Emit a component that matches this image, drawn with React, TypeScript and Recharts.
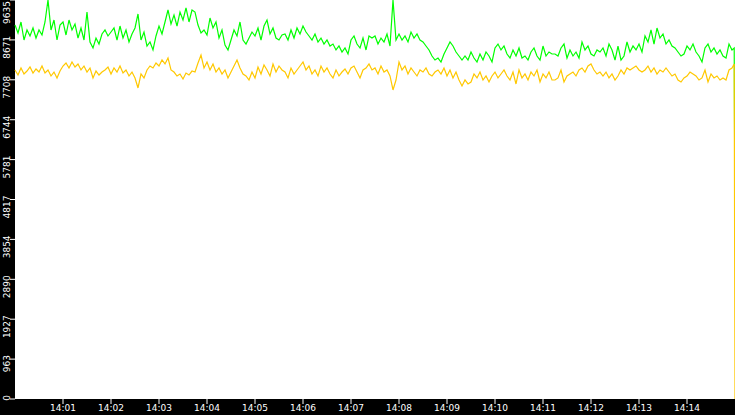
import { LineChart, Line, XAxis, YAxis, CartesianGrid } from 'recharts';

// one sample every 3.75 s from 14:00:00, last sample at 14:15:00
const greenValues = [
  9031, 8838, 9104, 8669, 8911, 8766, 8959, 8717, 8911, 8790, 9104, 9635, 8911, 9152, 8669,
  9031, 9104, 8790, 9152, 8911, 9055, 8717, 8959, 8669, 9345, 8621, 8476, 8717, 8572, 8814,
  8911, 8766, 8862, 8959, 8669, 9007, 8717, 8911, 8621, 8814, 8959, 9297, 8669, 8862, 8524,
  8621, 8428, 8766, 9007, 8814, 9104, 9394, 9055, 9273, 9007, 9345, 9152, 9442, 9104, 9394,
  9345, 9031, 8838, 8911, 8790, 9200, 8959, 9104, 8717, 8911, 8548, 8428, 8669, 8911, 8766,
  9104, 8669, 8572, 8717, 8862, 8766, 8959, 8669, 9007, 9152, 8814, 8959, 8717, 8669, 8790,
  8814, 8669, 8911, 8717, 8959, 8814, 9007, 8862, 8766, 8669, 8814, 8621, 8717, 8572, 8669,
  8524, 8572, 8428, 8524, 8379, 8476, 8331, 8669, 8766, 8572, 8476, 8717, 8428, 8766, 8717,
  8766, 8572, 8717, 8621, 8814, 8524, 9635, 8669, 8814, 8669, 8766, 8621, 8862, 8717, 8814,
  8669, 8621, 8524, 8428, 8283, 8186, 8234, 8138, 8331, 8476, 8621, 8524, 8379, 8283, 8186,
  8283, 8186, 8379, 8234, 8138, 8331, 8186, 8379, 8283, 8138, 8476, 8572, 8428, 8524, 8331,
  8234, 8428, 8283, 8476, 8234, 8283, 8186, 8379, 8476, 8283, 8186, 8524, 8283, 8379, 8331,
  8331, 8283, 8476, 8572, 8234, 8428, 8283, 8379, 8234, 8621, 8428, 8524, 8331, 8283, 8428,
  8379, 8476, 8283, 8572, 8428, 8186, 8524, 8186, 8283, 8621, 8379, 8524, 8428, 8572, 8379,
  8766, 8621, 8911, 8572, 8959, 8717, 8814, 8572, 8669, 8524, 8476, 8379, 8283, 8331, 8524,
  8428, 8572, 8379, 8283, 8138, 8476, 8572, 8379, 8476, 8331, 8428, 8283, 8234, 8572, 8428,
  8476, 4100,
];

const yellowValues = [
  7945, 7824, 7993, 7848, 7920, 8017, 7872, 7969, 7896, 8041, 7872, 7945, 7800, 7896, 7752,
  7920, 8041, 8114, 7993, 8138, 8017, 8090, 7945, 8041, 7896, 7993, 7752, 7920, 7824, 7896,
  7945, 8017, 7848, 7993, 7896, 8041, 7872, 7945, 7800, 7896, 7752, 7510, 7848, 7752, 7945,
  8041, 7993, 8114, 8041, 8186, 8090, 8235, 7945, 7896, 7800, 7848, 7727, 7872, 7824, 7920,
  7896, 8114, 8307, 7993, 8138, 7945, 8090, 7896, 7993, 7848, 7945, 7752, 7896, 8041, 8186,
  7993, 7848, 7800, 7703, 7896, 7752, 8017, 7848, 8065, 7945, 7800, 8090, 7896, 8041, 7945,
  7896, 7752, 7993, 7848, 7945, 8041, 8138, 7945, 8041, 7848, 7945, 7800, 8041, 7896, 7993,
  7848, 7752, 7945, 7800, 7896, 7969, 7848, 7993, 8041, 7896, 7752, 7945, 7993, 8090, 7945,
  7993, 7848, 8041, 7896, 7945, 7800, 7462, 7703, 8138, 7945, 8041, 7848, 7993, 7896, 7800,
  7945, 7896, 7993, 7848, 7800, 7896, 7945, 7848, 7993, 7800, 7945, 7752, 7896, 7703, 7558,
  7703, 7607, 7655, 7848, 7752, 7896, 7703, 7800, 7655, 7800, 7896, 7752, 7848, 7945, 7800,
  7703, 7896, 7607, 7945, 7752, 7848, 7703, 7896, 7800, 7945, 7655, 7848, 7752, 7896, 7703,
  7703, 7752, 7945, 7655, 7800, 7848, 7896, 7800, 7945, 7993, 7896, 8041, 8090, 7945, 7848,
  7896, 7800, 7896, 7752, 7848, 7703, 7800, 7945, 7848, 7993, 7945, 7993, 8041, 7945, 7896,
  7945, 8041, 7896, 7993, 7848, 7945, 7896, 7993, 7896, 7800, 7848, 7703, 7655, 7752, 7800,
  7896, 7848, 7800, 7703, 7752, 7945, 7655, 7848, 7752, 7800, 7703, 7752, 7703, 7945, 7993,
  8090, 0,
];

// sample times in seconds after 14:00:00
const times = greenValues.map((_, i) => (i < 240 ? i * 3.75 : i === 240 ? 899 : 900));

const yTicks = [0, 963, 1927, 2890, 3854, 4817, 5781, 6744, 7708, 8671, 9635];
const xTicks = [60, 120, 180, 240, 300, 360, 420, 480, 540, 600, 660, 720, 780, 840];

const data = greenValues.map((g, i) => ({
  t: times[i],
  green: g,
  yellow: yellowValues[i],
}));

const fontFamily = '"DejaVu Sans", sans-serif';

function YTick(props: any) {
  const { y, payload } = props;
  const ty = Math.max(y - 4, 1);
  return (
    <g>
      <line x1={10} x2={15} y1={y} y2={y} stroke="#fff" />
      <text
        x={10}
        y={ty}
        transform={`rotate(-90, 10, ${ty})`}
        textAnchor="end"
        fill="#fff"
        fontSize={9}
        fontFamily={fontFamily}
      >
        {payload.value}
      </text>
    </g>
  );
}

function fmtTime(t: number) {
  return '14:' + String(Math.floor(t / 60)).padStart(2, '0');
}

export default function App() {
  return (
    <div style={{ position: 'fixed', top: 0, left: 0, background: '#000', width: 735, height: 415 }}>
      <LineChart width={735} height={415} data={data} margin={{ top: 0, right: 0, bottom: 0, left: 0 }}>
        <CartesianGrid fill="#fff" stroke="none" horizontal={false} vertical={false} />
        <XAxis
          dataKey="t"
          type="number"
          domain={[0, 900]}
          ticks={xTicks}
          tickFormatter={fmtTime}
          height={16}
          axisLine={false}
          tickLine={{ stroke: '#fff' }}
          tickSize={5}
          tickMargin={1}
          tick={{ fill: '#fff', fontSize: 9, fontFamily }}
          interval={0}
        />
        <YAxis
          type="number"
          domain={[0, 9635]}
          ticks={yTicks}
          width={15}
          axisLine={false}
          tickLine={false}
          tick={<YTick />}
          interval={0}
        />
        <Line
          dataKey="green"
          type="linear"
          stroke="#00ff00"
          strokeWidth={1.2}
          dot={false}
          isAnimationActive={false}
        />
        <Line
          dataKey="yellow"
          type="linear"
          stroke="#ffc800"
          strokeWidth={1.2}
          dot={false}
          isAnimationActive={false}
        />
      </LineChart>
    </div>
  );
}
